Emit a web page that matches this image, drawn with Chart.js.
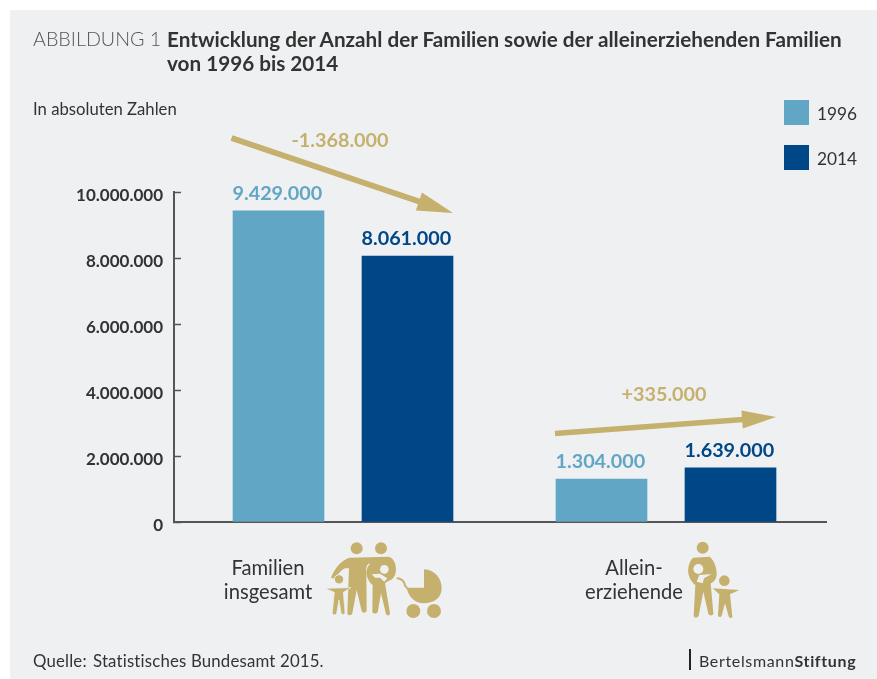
<!DOCTYPE html>
<html lang="de"><head><meta charset="utf-8">
<style>
html,body{margin:0;padding:0;background:#fff;width:877px;height:679px;overflow:hidden}
#panel{position:absolute;left:10px;top:10px;right:0;bottom:0;background:#eff0f2}
#wrap{position:absolute;left:0;top:0;width:877px;height:679px}
.t{position:absolute;font-family:Lato,sans-serif;color:#333;white-space:nowrap}
svg{position:absolute;left:0;top:0}
</style>
<script src="https://cdn.jsdelivr.net/npm/chart.js@4"></script>
</head><body>
<div id="panel"></div>
<div id="wrap"><canvas id="c" width="877" height="679"></canvas></div>
<div class="t" style="left:33px;top:27px;font-size:19.7px;font-weight:300;color:#555">ABBILDUNG 1</div>
<div class="t" style="left:167px;top:27px;font-size:20.7px;font-weight:700;line-height:24px;color:#333">Entwicklung der Anzahl der Familien sowie der alleinerziehenden Familien<br>von 1996 bis 2014</div>
<div class="t" style="left:33px;top:99px;font-size:16.7px">In absoluten Zahlen</div>
<div class="t" style="left:33px;top:650px;font-size:16.8px;letter-spacing:.18px">Quelle:</div>
<div class="t" style="left:93px;top:650px;font-size:16.8px;letter-spacing:.18px">Statistisches Bundesamt 2015.</div>
<div class="t" style="left:699px;top:651px;font-size:16px;letter-spacing:.65px;color:#333">Bertelsmann<b>Stiftung</b></div>
<div style="position:absolute;left:689px;top:649px;width:2px;height:21px;background:#222"></div>
<svg width="877" height="679" fill="#c5b16d">
<!-- Familie -->
<g transform="translate(325 535) scale(.33333)">
<circle cx="95" cy="40" r="18"/><circle cx="168" cy="40" r="18"/>
<path d="M18 128C30 95 55 72 75 68L190 65C205 68 213 85 213 103C213 120 205 135 190 138L180 145L195 235C195 243 185 243 183 237L168 175L158 232C155 238 142 236 142 230L143 150C128 140 122 115 125 105C127 95 132 90 135 86L130 86C122 95 122 105 124 115L125 225C125 235 113 235 110 228L95 165L82 235C80 243 68 243 67 235L72 100L60 100C50 105 35 120 30 132Z"/>
<circle cx="178" cy="103" r="13" fill="#eff0f2"/>
<path d="M140 118L165 116L187 130L178 140L165 128L150 128Z" fill="#eff0f2"/>
<circle cx="42" cy="133" r="14" stroke="#eff0f2" stroke-width="3"/>
<path d="M0 160L78 158L55 172L60 232C60 240 50 240 48 233L42 195L35 235C32 242 22 240 22 233L28 172Z" stroke="#eff0f2" stroke-width="2"/>
<path d="M218 130C232 132 238 140 240 152L245 158" fill="none" stroke="#c5b16d" stroke-width="6" stroke-linecap="round"/>
<path d="M297 103C330 105 350 130 350 160C350 190 325 205 297 205C270 205 250 185 245 158L297 158Z"/>
<circle cx="265" cy="228" r="21"/><circle cx="327" cy="228" r="21"/>
</g>
<!-- Alleinerziehende -->
<g transform="translate(680 535) scale(.33333)">
<circle cx="68" cy="38" r="18"/>
<path d="M40 68L88 65C100 70 112 100 110 120C108 135 100 142 92 145L100 235C100 243 88 243 85 236L70 170L56 242C52 250 42 248 41 242L46 150C30 140 22 115 25 100C27 85 33 72 40 68Z"/>
<circle cx="55" cy="102" r="15" fill="#eff0f2"/>
<path d="M58 120L95 117L72 130L68 145L50 140Z" fill="#eff0f2"/>
<circle cx="133" cy="137" r="16"/>
<path d="M98 160L178 165L150 178L157 245C157 250 147 250 146 244L135 205L125 242C122 248 114 247 114 240L118 178Z"/>
</g>
</svg>
<script>
const categories = ["Familien insgesamt", "Alleinerziehende"];
const categoryLines = [["Familien", "insgesamt"], ["Allein-", "erziehende"]];
const years = ["1996", "2014"];
const values1996 = [9429000, 1304000];
const values2014 = [8061000, 1639000];
const yTicks = [0, 2000000, 4000000, 6000000, 8000000, 10000000];
const changes = ["-1.368.000", "+335.000"];
const LIGHT = "#62a6c5", DARK = "#004787", GOLD = "#c5b16d", INK = "#333";
const de = v => String(v).replace(/\B(?=(\d{3})+(?!\d))/g, ".");
const font = (s, w) => `${w} ${s}px Lato, sans-serif`;

function arrow(ctx, x1, y1, x2, y2, w, hl, hw) {
  const a = Math.atan2(y2 - y1, x2 - x1);
  ctx.save(); ctx.translate(x2, y2); ctx.rotate(a); ctx.fillStyle = GOLD;
  const L = Math.hypot(x2 - x1, y2 - y1);
  ctx.fillRect(-L, -w / 2, L - hl + 1, w);
  ctx.beginPath(); ctx.moveTo(0, 0); ctx.lineTo(-hl, -hw / 2); ctx.lineTo(-hl, hw / 2); ctx.closePath(); ctx.fill();
  ctx.restore();
}

const extras = {
  id: "extras",
  afterDatasetsDraw(chart) {
    const { ctx } = chart;
    ctx.save();
    // value labels above bars, starting at the bar's left edge
    chart.data.datasets.forEach((ds, i) => {
      chart.getDatasetMeta(i).data.forEach((bar, j) => {
        ctx.font = font(19.8, 700); ctx.fillStyle = ds.backgroundColor;
        ctx.textAlign = "left"; ctx.textBaseline = "alphabetic";
        ctx.fillText(de(ds.data[j].y), bar.x - bar.width / 2 - 0.5, bar.y - 10.5);
      });
    });
    // change arrows and values
    arrow(ctx, 231.5, 138, 453, 213, 6, 36, 19);
    arrow(ctx, 555, 433.5, 776, 417, 5.5, 34, 18);
    ctx.font = font(19.8, 700); ctx.fillStyle = GOLD; ctx.textAlign = "center";
    ctx.fillText(changes[0], 340, 147);
    ctx.fillText(changes[1], 664, 401);
    // category labels
    ctx.font = font(20.2, 400); ctx.fillStyle = INK;
    [[268, 575, 599], [634, 575, 599]].forEach((p, i) => {
      ctx.fillText(categoryLines[i][0], p[0], p[1]);
      ctx.fillText(categoryLines[i][1], p[0], p[2]);
    });
    // legend
    chart.data.datasets.forEach((ds, i) => {
      const top = 100 + i * 45;
      ctx.fillStyle = ds.backgroundColor; ctx.fillRect(784, top, 25, 25);
      ctx.fillStyle = INK; ctx.font = font(17.3, 400); ctx.textAlign = "left";
      ctx.fillText(ds.label, 817, top + 20);
    });
    ctx.restore();
  }
};

new Chart(document.getElementById("c"), {
  type: "bar",
  data: {
    datasets: [
      { label: years[0], data: values1996.map((v, i) => ({ x: i, y: v })), backgroundColor: LIGHT },
      { label: years[1], data: values2014.map((v, i) => ({ x: i, y: v })), backgroundColor: DARK }
    ]
  },
  options: {
    responsive: false, animation: false, devicePixelRatio: 1,
    layout: { padding: { left: 0, top: 192, right: 51, bottom: 157 } },
    parsing: false,
    barThickness: 129, maxBarThickness: 91,
    plugins: { legend: { display: false }, tooltip: { enabled: false } },
    scales: {
      x: {
        type: "linear", offset: false, min: -169 / 323, max: 483 / 323,
        afterFit: s => { s.height = 0; },
        grid: { display: false, offset: false },
        border: { color: "#555", width: 2 },
        ticks: { display: false }
      },
      y: {
        min: 0, max: 10000000,
        afterFit: s => { s.width = 174; },
        afterBuildTicks: s => { s.ticks = yTicks.map(value => ({ value })); },
        border: { color: "#555", width: 2 },
        grid: { drawOnChartArea: false, drawTicks: true, tickLength: -7, color: "#555", tickWidth: 1.5 },
        ticks: { padding: 18, labelOffset: 4, color: INK, font: { family: "Lato", size: 17, weight: "700" }, callback: v => de(v) }
      }
    }
  },
  plugins: [extras]
});
</script>
</body></html>
